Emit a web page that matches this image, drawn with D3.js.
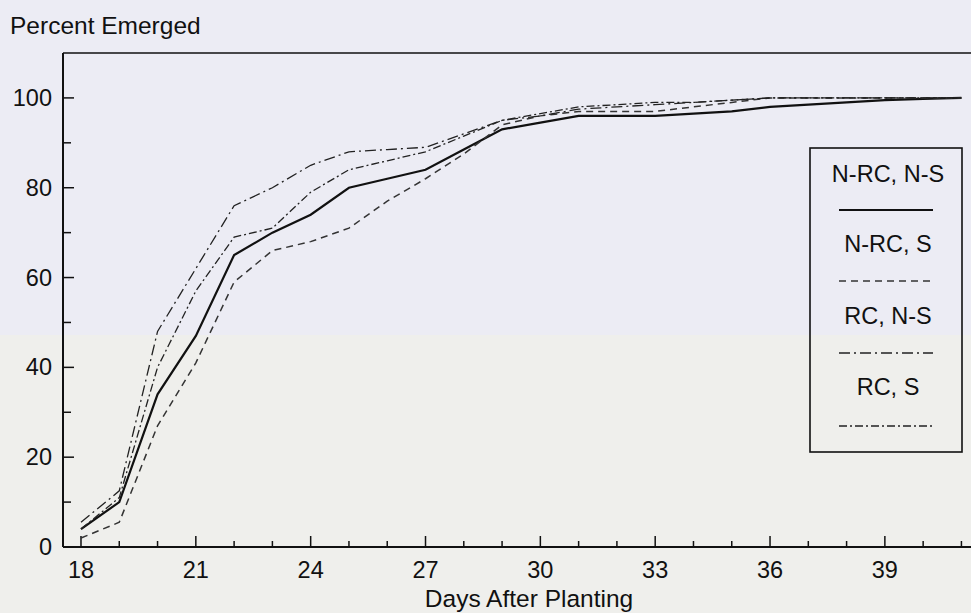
<!DOCTYPE html>
<html><head><meta charset="utf-8">
<script src="https://cdn.jsdelivr.net/npm/d3@7"></script>
<style>body{margin:0;background:#eeeef2;}svg{display:block;}</style>
</head><body><svg id="c" width="971" height="613"></svg>
<script>
const days = [18,19,20,21,22,23,24,25,26,27,28,29,30,31,32,33,34,35,36,37,38,39,40,41];
const nrcNs = [4,10,34,47,65,70,74,80,82,84,88.5,93,94.5,96,96,96,96.5,97,98,98.5,99,99.5,99.8,100];
const nrcS  = [2,5.5,27,41,59,66,68,71,77,82,87.5,94,96,97,97,97,98,99,100,100,100,100,100,100];
const rcNs  = [5.5,12.5,48,62,76,80,85,88,88.5,89,92,95,96,97.5,98,98.5,99,99.5,100,100,100,100,100,100];
const rcS   = [4,11,40,57,69,71,79,84,86,88,91.5,95,96.5,98,98.5,99,99,99.5,100,100,100,100,100,100];
const seriesNames = ["N-RC, N-S","N-RC, S","RC, N-S","RC, S"];
const xTickLabels = [18,21,24,27,30,33,36,39];
const yTickLabels = [0,20,40,60,80,100];

const svg = d3.select("#c");
// scanned paper background
svg.append("rect").attr("x",0).attr("y",0).attr("width",971).attr("height",335).attr("fill","#ececf4");
svg.append("rect").attr("x",0).attr("y",335).attr("width",971).attr("height",278).attr("fill","#efefec");

const L=63, T=53, B=547, R=971;
const x = d3.scaleLinear().domain([17.53, 41.25]).range([L, R]);
const y = d3.scaleLinear().domain([0, 110]).range([B, T]);
const font = "'Liberation Sans', Arial, Helvetica, sans-serif";

// frame
svg.append("line").attr("x1",L).attr("x2",L).attr("y1",T).attr("y2",B).attr("stroke","#111").attr("stroke-width",2);
svg.append("line").attr("x1",L).attr("x2",R).attr("y1",T).attr("y2",T).attr("stroke","#111").attr("stroke-width",1.6);
svg.append("line").attr("x1",L).attr("x2",R).attr("y1",B).attr("y2",B).attr("stroke","#111").attr("stroke-width",2);

// x ticks (inward)
const xMinor = d3.range(18, 42, 1);
svg.append("g").selectAll("line").data(xMinor).join("line")
  .attr("x1",d=>x(d)).attr("x2",d=>x(d)).attr("y1",B)
  .attr("y2",d=> (d-18)%3===0 ? B-11 : B-6)
  .attr("stroke","#111").attr("stroke-width",1.5);
svg.append("g").selectAll("text").data(xTickLabels).join("text")
  .attr("x",d=>x(d)).attr("y",578).attr("text-anchor","middle")
  .attr("font-family",font).attr("font-size",23.5).attr("fill","#111").text(d=>d);

// y ticks (inward)
const yMinor = d3.range(0, 110, 10);
svg.append("g").selectAll("line").data(yMinor).join("line")
  .attr("x1",L).attr("x2",d=> d%20===0 ? L+11 : L+8).attr("y1",d=>y(d)).attr("y2",d=>y(d))
  .attr("stroke","#111").attr("stroke-width",1.5);
svg.append("g").selectAll("text").data(yTickLabels).join("text")
  .attr("x",52).attr("y",d=>y(d)+8).attr("text-anchor","end")
  .attr("font-family",font).attr("font-size",23.5).attr("fill","#111").text(d=>d);

svg.append("text").attr("x",10).attr("y",34).attr("font-family",font).attr("font-size",24.5).attr("fill","#111").text("Percent Emerged");
svg.append("text").attr("x",529).attr("y",607).attr("text-anchor","middle").attr("font-family",font).attr("font-size",24.5).attr("fill","#111").text("Days After Planting");

const styles = [
  {dash:null, w:2.2, c:"#111"},
  {dash:"7,5", w:1.5, c:"#333"},
  {dash:"11,4,2,4", w:1.3, c:"#222"},
  {dash:"8,3,2,3", w:1.3, c:"#222"}
];
const data = [nrcNs, nrcS, rcNs, rcS];
const line = d3.line().x((d,i)=>x(days[i])).y(d=>y(d));
data.forEach((s,k)=>{
  svg.append("path").datum(s).attr("d",line).attr("fill","none")
    .attr("stroke",styles[k].c).attr("stroke-width",styles[k].w)
    .attr("stroke-dasharray",styles[k].dash);
});

// legend
const lg = svg.append("g");
lg.append("rect").attr("x",810).attr("y",148).attr("width",152).attr("height",304)
  .attr("fill","none").attr("stroke","#111").attr("stroke-width",1.6);
const tY = [182, 252, 324, 395], lY = [210, 281, 353, 426];
seriesNames.forEach((n,k)=>{
  lg.append("text").attr("x",888).attr("y",tY[k]).attr("text-anchor","middle")
    .attr("font-family",font).attr("font-size",23.5).attr("fill","#111").text(n);
  lg.append("line").attr("x1",839).attr("x2",933).attr("y1",lY[k]).attr("y2",lY[k])
    .attr("stroke",styles[k].c).attr("stroke-width",styles[k].w).attr("stroke-dasharray",styles[k].dash);
});
</script></body></html>
